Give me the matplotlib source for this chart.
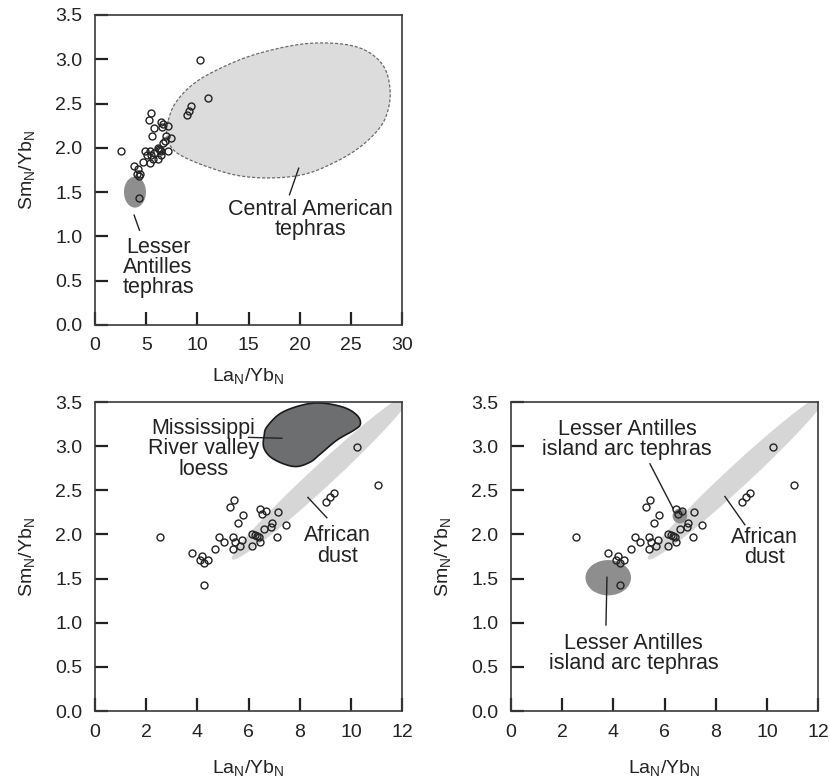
import numpy as np
import matplotlib
matplotlib.use("Agg")
import matplotlib.pyplot as plt
from matplotlib.patches import Ellipse, Polygon

plt.rcParams['font.family'] = ['Liberation Sans', 'DejaVu Sans']
plt.rcParams['mathtext.fontset'] = 'custom'
plt.rcParams['mathtext.rm'] = 'Liberation Sans'
plt.rcParams['mathtext.it'] = 'Liberation Sans:italic'

# sample ratios (La/Yb)N and (Sm/Yb)N
la_yb = [2.54, 3.80, 4.20, 4.11, 4.26, 4.43, 4.25, 4.67, 4.85, 5.06,
         5.39, 5.41, 5.49, 5.66, 5.74, 5.28, 5.44, 5.57, 5.80, 6.13,
         6.13, 6.25, 6.34, 6.42, 6.43, 6.43, 6.52, 6.67, 6.60, 6.90,
         6.87, 7.16, 7.10, 7.47, 9.03, 9.18, 9.33, 10.24, 11.07]
sm_yb = [1.97, 1.79, 1.76, 1.71, 1.68, 1.71, 1.43, 1.84, 1.97, 1.92,
         1.83, 1.97, 1.92, 1.87, 1.94, 2.31, 2.39, 2.13, 2.22, 1.87,
         2.00, 1.99, 1.98, 1.97, 1.92, 2.29, 2.23, 2.27, 2.06, 2.13,
         2.08, 2.25, 1.97, 2.11, 2.37, 2.42, 2.47, 2.99, 2.56]

# field outlines
central_am_x = [7.16, 7.82, 9.28, 11.24, 14.5, 17.8, 21.0, 24.3, 26.6, 28.2, 28.8,
                28.7, 27.9, 25.9, 23.3, 20.4, 17.1, 13.85, 10.9, 8.63, 7.49, 7.0]
central_am_y = [2.31, 2.50, 2.69, 2.84, 3.01, 3.12, 3.18, 3.17, 3.09, 2.92, 2.69,
                2.46, 2.24, 2.01, 1.83, 1.70, 1.66, 1.69, 1.79, 1.90, 2.00, 2.15]
loess_x = [6.61, 6.72, 7.24, 8.02, 8.80, 9.72, 10.24, 10.37, 10.11, 9.46, 8.80,
           8.41, 7.89, 7.37, 6.85, 6.59]
loess_y = [3.12, 3.22, 3.37, 3.46, 3.49, 3.44, 3.35, 3.25, 3.18, 3.07, 2.91,
           2.82, 2.77, 2.80, 2.88, 2.99]
dust_center = (8.88, 2.665)
dust_major = (3.52, 0.945)
dust_minor = (0.293, -0.092)

y_ticks = [0.0, 0.5, 1.0, 1.5, 2.0, 2.5, 3.0, 3.5]
x_ticks_top = [0, 5, 10, 15, 20, 25, 30]
x_ticks_bottom = [0, 2, 4, 6, 8, 10, 12]

INK = '#222222'
LIGHT = '#d6d6d7'
MID = '#8e8e8f'
DARK = '#6d6e70'
TXT = 15.5


def closed_curve(xs, ys, n=24):
    # periodic Catmull-Rom through the outline vertices
    pts = np.column_stack([xs, ys])
    m = len(pts)
    t = np.linspace(0, 1, n, endpoint=False)[:, None]
    segs = []
    for i in range(m):
        p0, p1, p2, p3 = pts[i - 1], pts[i], pts[(i + 1) % m], pts[(i + 2) % m]
        segs.append(0.5 * (2 * p1 + (p2 - p0) * t
                           + (2 * p0 - 5 * p1 + 4 * p2 - p3) * t ** 2
                           + (3 * p1 - p0 - 3 * p2 + p3) * t ** 3))
    return np.vstack(segs)


def dust_ellipse():
    a = np.linspace(0, 2 * np.pi, 200)
    x = dust_center[0] + dust_major[0] * np.cos(a) + dust_minor[0] * np.sin(a)
    y = dust_center[1] + dust_major[1] * np.cos(a) + dust_minor[1] * np.sin(a)
    return np.column_stack([x, y])


def setup(ax, xmax, xticks, xlab_y):
    ax.set_xlim(0, xmax)
    ax.set_ylim(0, 3.5)
    ax.set_xticks(xticks)
    ax.set_yticks(y_ticks)
    ax.set_yticklabels(['%.1f' % v for v in y_ticks])
    ax.tick_params(direction='in', length=9.5, width=1.6, color=INK,
                   labelsize=14, labelcolor=INK, pad=9)
    for s in ax.spines.values():
        s.set_linewidth(1.2)
        s.set_color('#3a3a3a')
    ax.set_xlabel(r'La$_{\rm N}$/Yb$_{\rm N}$', fontsize=14, color=INK)
    ax.set_ylabel(r'Sm$_{\rm N}$/Yb$_{\rm N}$', fontsize=14, color=INK)
    ax.xaxis.set_label_coords(0.5, xlab_y)
    ax.yaxis.set_label_coords(-0.19, 0.5)


def samples(ax):
    ax.plot(la_yb, sm_yb, 'o', ms=5, mfc='none', mec=INK, mew=1.0, zorder=5)


def leader(ax, x0, y0, x1, y1):
    ax.plot([x0, x1], [y0, y1], color=INK, lw=1.0, zorder=4)


fig = plt.figure(figsize=(8.3, 7.81), dpi=100)
ax1 = fig.add_axes([0.1145, 0.5839, 0.3699, 0.3969])
ax2 = fig.add_axes([0.1145, 0.0896, 0.3699, 0.3956])
ax3 = fig.add_axes([0.6157, 0.0896, 0.3699, 0.3956])

# top: tephra fields
setup(ax1, 30, x_ticks_top, -0.132)
ax1.add_patch(Polygon(closed_curve(central_am_x, central_am_y), closed=True,
                      fc='#dcdcdd', ec='#6a6a6a', lw=0.9, ls=(0, (2.5, 1.5)), zorder=1))
ax1.add_patch(Ellipse((3.9, 1.50), 2.15, 0.35, fc=MID, ec='none', zorder=1))
samples(ax1)
leader(ax1, 3.82, 1.24, 4.34, 1.07)
leader(ax1, 19.9, 1.77, 19.0, 1.47)
ax1.text(6.16, 0.65, 'Lesser\nAntilles\ntephras', ha='center', va='center',
         fontsize=TXT, color=INK, linespacing=0.95)
ax1.text(21.0, 1.19, 'Central American\ntephras', ha='center', va='center',
         fontsize=TXT, color=INK, linespacing=0.95)

# bottom left: loess and African dust
setup(ax2, 12, x_ticks_bottom, -0.152)
ax2.add_patch(Polygon(dust_ellipse(), closed=True, fc=LIGHT, ec='none', zorder=1))
ax2.add_patch(Polygon(closed_curve(loess_x, loess_y), closed=True,
                      fc=DARK, ec='#1a1a1a', lw=1.2, zorder=2))
samples(ax2)
leader(ax2, 6.0, 3.10, 7.30, 3.09)
leader(ax2, 8.32, 2.42, 9.06, 2.19)
ax2.text(4.24, 2.97, 'Mississippi\nRiver valley\nloess', ha='center', va='center',
         fontsize=TXT, color=INK, linespacing=0.97, zorder=6)
ax2.text(9.48, 1.87, 'African\ndust', ha='center', va='center',
         fontsize=TXT, color=INK, linespacing=0.95)

# bottom right: island arc tephras and African dust
setup(ax3, 12, x_ticks_bottom, -0.152)
ax3.add_patch(Polygon(dust_ellipse(), closed=True, fc=LIGHT, ec='none', zorder=1))
ax3.add_patch(Ellipse((3.80, 1.51), 1.78, 0.40, fc=MID, ec='none', zorder=2))
ax3.add_patch(Ellipse((6.60, 2.21), 0.57, 0.17, fc=MID, ec='none', zorder=2))
samples(ax3)
leader(ax3, 5.43, 2.80, 6.34, 2.29)
leader(ax3, 3.71, 0.975, 3.75, 1.515)
leader(ax3, 8.36, 2.43, 9.14, 2.11)
ax3.text(4.54, 3.08, 'Lesser Antilles\nisland arc tephras', ha='center', va='center',
         fontsize=TXT, color=INK, linespacing=0.95)
ax3.text(4.79, 0.654, 'Lesser Antilles\nisland arc tephras', ha='center', va='center',
         fontsize=TXT, color=INK, linespacing=0.95)
ax3.text(9.92, 1.85, 'African\ndust', ha='center', va='center',
         fontsize=TXT, color=INK, linespacing=0.95)

fig.savefig('out.png', dpi=100)
